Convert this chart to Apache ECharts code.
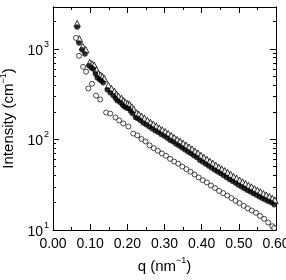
<!DOCTYPE html>
<html><head><meta charset="utf-8">
<script src="https://cdn.jsdelivr.net/npm/echarts@6/dist/echarts.min.js"></script>
<style>html,body{margin:0;padding:0;background:#fff}#c{width:286px;height:280px}</style>
</head><body><div id="c"></div>
<script>
// Filled circles
const qFilled = [0.065,0.070,0.078,0.086,0.097,0.103,0.108,0.114,0.119,0.125,0.130,0.135,0.146,0.154,0.162,0.168,0.173,0.181,0.187,0.192,0.198,0.203,0.209,0.214,0.222,0.228,0.235,0.243,0.251,0.259,0.267,0.275,0.283,0.291,0.299,0.307,0.315,0.323,0.331,0.339,0.347,0.355,0.363,0.371,0.379,0.387,0.395,0.403,0.411,0.419,0.427,0.435,0.443,0.451,0.459,0.467,0.475,0.483,0.491,0.499,0.507,0.515,0.523,0.531,0.539,0.547,0.555,0.563,0.571,0.579,0.587,0.595];
const iFilled = [1745,1160,975,880,650,620,600,530,480,460,445,423,354,328,305,285,268,255,240,230,222,219,205,193,175,170,162,152,145,138,131,125,120,114,109,104,98,94,89,85,81,77,73,70,66,63,59,56.5,53.5,51,48.5,46,44,42,40,38,36,34.5,33,31.3,30,28.7,27.5,26.4,25.3,24.3,23.3,22.4,21.6,20.8,20.1,19.0];
// Open triangles
const qTri = [0.065,0.071,0.080,0.088,0.099,0.105,0.111,0.117,0.122,0.128,0.133,0.138,0.149,0.157,0.165,0.171,0.176,0.184,0.190,0.195,0.201,0.206,0.212,0.217,0.225,0.231,0.238,0.246,0.254,0.262,0.270,0.278,0.286,0.294,0.302,0.310,0.318,0.326,0.334,0.342,0.350,0.358,0.366,0.374,0.382,0.390,0.398,0.406,0.414,0.422,0.430,0.438,0.446,0.454,0.462,0.470,0.478,0.486,0.494,0.502,0.510,0.518,0.526,0.534,0.542,0.550,0.558,0.566,0.574,0.582,0.590,0.597];
const iTri = [1900,1290,1060,980,705,680,660,590,538,512,494,470,395,364,339,316,300,284,267,256,248,242,228,215,196,189,180,171,162,154,147,140,133,127,121.5,116,110,104.5,99.5,95,90.5,86,82,78,74,70.5,66.5,63,60,57,54.3,51.7,49.2,47,45,43,41,38.8,37.2,35.4,33.8,32.4,31,29.8,28.5,27.4,26.3,25.2,24.2,23.3,22.3,21.3];
// Open circles
const qOpen = [0.062,0.070,0.081,0.089,0.095,0.105,0.116,0.127,0.143,0.154,0.168,0.178,0.189,0.203,0.216,0.227,0.238,0.249,0.260,0.271,0.282,0.293,0.304,0.315,0.326,0.337,0.348,0.359,0.370,0.381,0.392,0.403,0.414,0.425,0.436,0.447,0.458,0.469,0.480,0.491,0.502,0.513,0.524,0.535,0.546,0.557,0.568,0.579,0.590,0.595];
const iOpen = [1320,838,634,560,365,412,305,276,198,193,175,162,150,139,116,111,101,95,86,80,75,70,66,61,57,54,50,47,44,41,38,35.5,33.5,31,29,27,25.5,24,22.5,21,19.8,18.5,17.3,16.4,15.5,14.3,13.3,12.1,11,10.5];

const yMajor = [10, 100, 1000];
const yMinor = [20,30,40,50,60,70,80,90,200,300,400,500,600,700,800,900,2000];

const FONT = 'Liberation Sans, Arial, sans-serif';
const pair = (q, v) => q.map((x, i) => [x, v[i]]);

const chart = echarts.init(document.getElementById('c'), null, {renderer: 'canvas'});
const supRich = {
  b: {fontSize: 14, fontFamily: FONT, color: '#000', lineHeight: 18, verticalAlign: 'bottom'},
  s: {fontSize: 9, fontFamily: FONT, color: '#000', lineHeight: 18, verticalAlign: 'top', padding: [0,0,0,1]}
};
const yCommon = {
  type: 'log', min: 10, max: 2900, logBase: 10,
  axisLine: {show: true, lineStyle: {color: '#000', width: 1}},
  splitLine: {show: false},
};
chart.setOption({
  animation: false,
  backgroundColor: '#fff',
  grid: {left: 53, right: 10, top: 7, bottom: 50, containLabel: false, outerBoundsMode: 'none'},
  xAxis: [
    {type: 'value', min: 0, max: 0.6, interval: 0.1, position: 'bottom',
     name: '{t|q (nm}{s|\u22121}{t|)}', nameLocation: 'middle', nameGap: 26,
     nameTextStyle: {rich: {
       t: {fontSize: 15, fontFamily: FONT, color: '#000', lineHeight: 18, verticalAlign: 'bottom'},
       s: {fontSize: 9, fontFamily: FONT, color: '#000', lineHeight: 18, verticalAlign: 'top'}}},
     axisLine: {show: true, onZero: false, lineStyle: {color: '#000'}},
     axisTick: {show: true, inside: true, length: 6, lineStyle: {color: '#000'}},
     minorTick: {show: true, splitNumber: 2, length: 3, lineStyle: {color: '#000'}},
     axisLabel: {color: '#000', fontSize: 14, fontFamily: FONT, margin: 7, hideOverlap: false, formatter: v => v.toFixed(2)},
     splitLine: {show: false}},
    {type: 'value', min: 0, max: 0.6, interval: 0.1, position: 'top',
     axisLine: {show: true, onZero: false, lineStyle: {color: '#000'}},
     axisTick: {show: true, inside: true, length: 6, lineStyle: {color: '#000'}},
     minorTick: {show: true, splitNumber: 2, length: 3, lineStyle: {color: '#000'}},
     axisLabel: {show: false}, splitLine: {show: false}}
  ],
  yAxis: [
    Object.assign({}, yCommon, {position: 'left',
      name: '{t|Intensity (cm}{s|\u22121}{t|)}', nameLocation: 'middle', nameGap: 36, nameRotate: 90,
      nameTextStyle: {rich: {
        t: {fontSize: 15, fontFamily: FONT, color: '#000', lineHeight: 18, verticalAlign: 'bottom'},
        s: {fontSize: 9, fontFamily: FONT, color: '#000', lineHeight: 18, verticalAlign: 'top'}}},
      axisTick: {show: true, inside: true, length: 6, customValues: yMajor, lineStyle: {color: '#000'}},
      axisLabel: {show: true, margin: 4, customValues: yMajor, rich: supRich,
        formatter: v => '{b|10}{s|' + Math.round(Math.log10(v)) + '}'}}),
    Object.assign({}, yCommon, {position: 'left',
      axisTick: {show: true, inside: true, length: 3, customValues: yMinor, lineStyle: {color: '#000'}},
      axisLabel: {show: false}}),
    Object.assign({}, yCommon, {position: 'right',
      axisTick: {show: true, inside: true, length: 6, customValues: yMajor, lineStyle: {color: '#000'}},
      axisLabel: {show: false}}),
    Object.assign({}, yCommon, {position: 'right',
      axisTick: {show: true, inside: true, length: 3, customValues: yMinor, lineStyle: {color: '#000'}},
      axisLabel: {show: false}})
  ],
  series: [
    {type: 'scatter', xAxisIndex: 0, yAxisIndex: 0, data: pair(qTri, iTri),
     symbol: 'triangle', symbolSize: 6.5, itemStyle: {color: '#fff', borderColor: '#000', borderWidth: 1}},
    {type: 'scatter', xAxisIndex: 0, yAxisIndex: 0, data: pair(qFilled, iFilled),
     symbol: 'circle', symbolSize: 5.5, itemStyle: {color: '#000'}},
    {type: 'scatter', xAxisIndex: 0, yAxisIndex: 0, data: pair(qOpen, iOpen),
     symbol: 'circle', symbolSize: 5, itemStyle: {color: '#fff', borderColor: '#000', borderWidth: 0.9}}
  ]
});
</script>
</body></html>
